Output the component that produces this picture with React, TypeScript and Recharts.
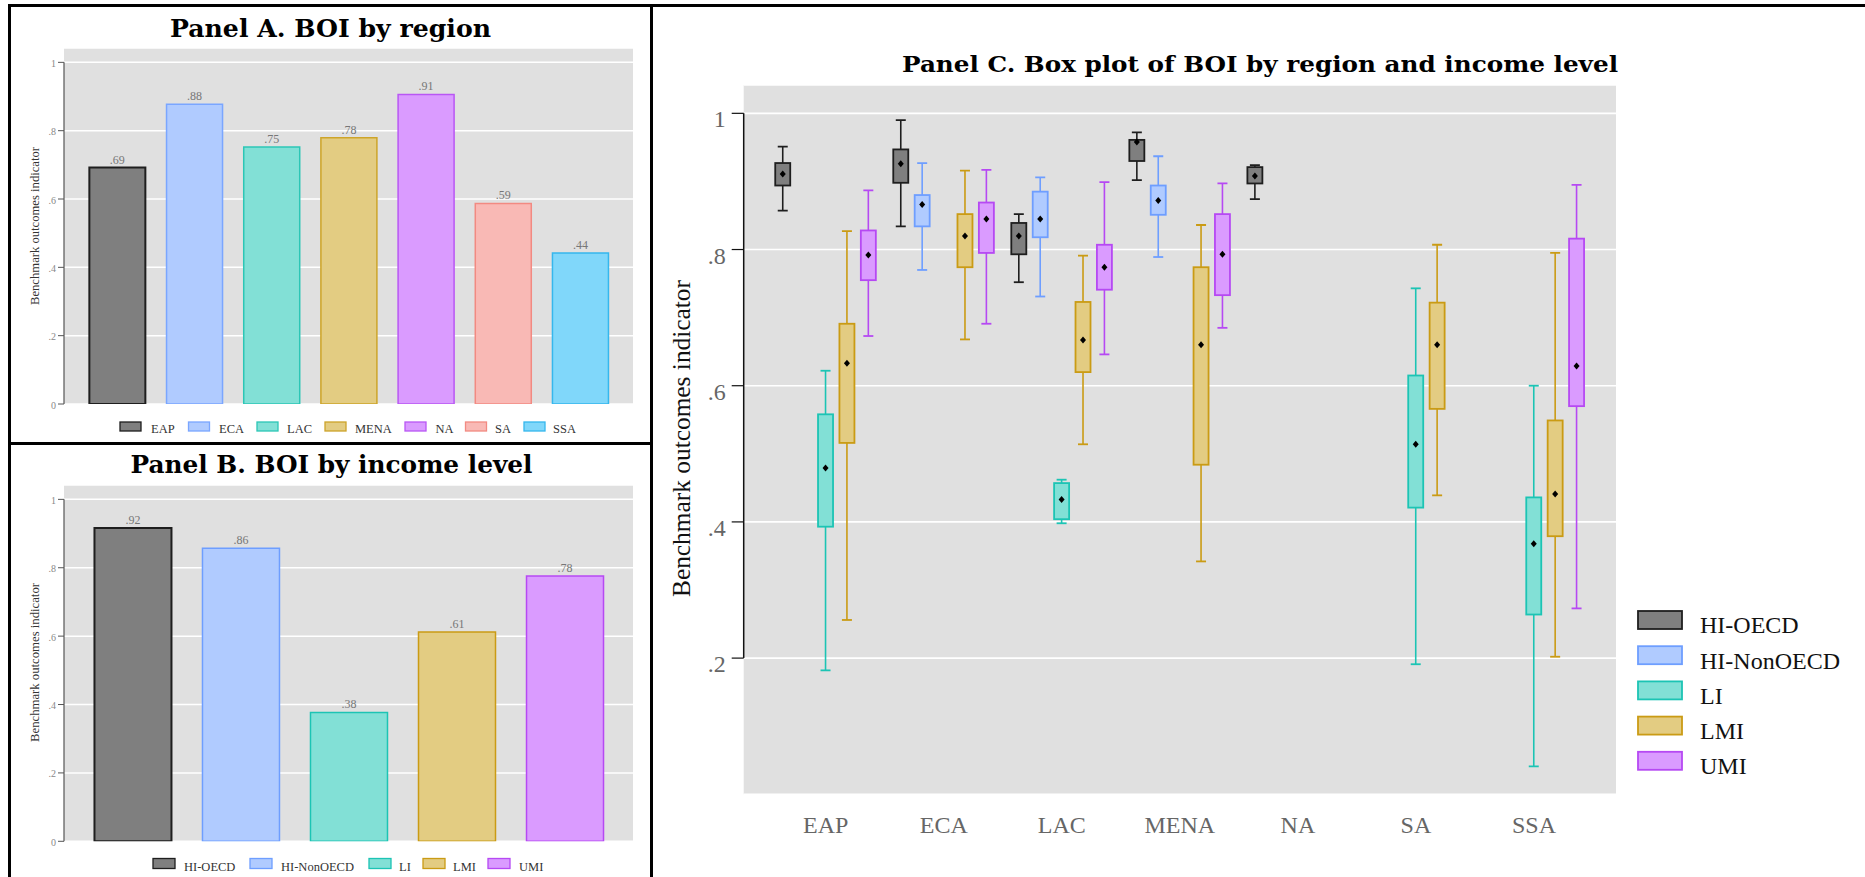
import React from 'react';
import {
  ComposedChart,
  Bar,
  XAxis,
  YAxis,
  CartesianGrid,
  Cell,
  LabelList,
  ReferenceLine,
} from 'recharts';

// ---------------- DATA ----------------
const regions = ['EAP', 'ECA', 'LAC', 'MENA', 'NA', 'SA', 'SSA'];
const regionBOI = [0.692, 0.877, 0.752, 0.779, 0.906, 0.587, 0.442];

const incomeGroups = ['HI-OECD', 'HI-NonOECD', 'LI', 'LMI', 'UMI'];
const incomeBOI = [0.916, 0.857, 0.377, 0.612, 0.776];

const yTicksAB = [0, 0.2, 0.4, 0.6, 0.8, 1];
const yTicksC = [0.2, 0.4, 0.6, 0.8, 1];

// box stats per region: [lower whisker, q1, mean, q3, upper whisker]
const hiOecdBox = [
  [0.857, 0.894, 0.911, 0.927, 0.951],
  [0.834, 0.898, 0.926, 0.947, 0.99],
  [0.752, 0.793, 0.82, 0.839, 0.852],
  [0.902, 0.93, 0.958, 0.961, 0.972],
  [0.874, 0.897, 0.908, 0.921, 0.924],
  null,
  null,
];
const hiNonOecdBox = [
  null,
  [0.77, 0.834, 0.866, 0.88, 0.927],
  [0.731, 0.818, 0.845, 0.885, 0.906],
  [0.789, 0.851, 0.872, 0.894, 0.937],
  null,
  null,
  null,
];
const liBox = [
  [0.182, 0.393, 0.479, 0.558, 0.622],
  null,
  [0.398, 0.404, 0.433, 0.457, 0.462],
  null,
  null,
  [0.191, 0.421, 0.514, 0.615, 0.743],
  [0.041, 0.264, 0.368, 0.436, 0.6],
];
const lmiBox = [
  [0.256, 0.516, 0.633, 0.691, 0.827],
  [0.668, 0.774, 0.82, 0.852, 0.916],
  [0.514, 0.62, 0.667, 0.723, 0.791],
  [0.342, 0.484, 0.66, 0.774, 0.836],
  null,
  [0.439, 0.566, 0.66, 0.722, 0.807],
  [0.202, 0.379, 0.441, 0.549, 0.795],
];
const umiBox = [
  [0.673, 0.755, 0.792, 0.828, 0.887],
  [0.691, 0.795, 0.845, 0.869, 0.917],
  [0.646, 0.741, 0.774, 0.807, 0.899],
  [0.685, 0.733, 0.793, 0.852, 0.897],
  null,
  null,
  [0.273, 0.57, 0.629, 0.816, 0.895],
];

// ---------------- STYLES ----------------
const regionFill = ['#7F7F7F', '#B0CBFF', '#82E0D6', '#E3CC82', '#DA9BFF', '#F9B9B5', '#80D7FA'];
const regionStroke = ['#1E1E1E', '#7AA6FF', '#2CC6B6', '#CDA42A', '#B957F4', '#F28A82', '#35B7ED'];
const incomeFill = ['#7F7F7F', '#B0CBFF', '#82E0D6', '#E3CC82', '#DA9BFF'];
const incomeStroke = ['#1E1E1E', '#6E9EFF', '#1CC4B4', '#CA9B14', '#B649F3'];

const SERIF = "'Liberation Serif', 'DejaVu Serif', serif";
const TITLE_FONT = "'DejaVu Serif', 'Liberation Serif', serif";
const PANEL_BG = '#E0E0E0';

const regionData = regions.map((r, i) => ({ x: i, name: r, value: regionBOI[i] }));
const incomeData = incomeGroups.map((g, i) => ({ x: i, name: g, value: incomeBOI[i] }));

const allBoxes = [hiOecdBox, hiNonOecdBox, liBox, lmiBox, umiBox];
const DODGE = 0.1813;
const boxData: any[] = [];
allBoxes.forEach((arr, g) => {
  arr.forEach((s, r) => {
    if (!s) return;
    boxData.push({
      x: r + (g - 2) * DODGE,
      range: [s[0], s[4]],
      lo: s[0],
      q1: s[1],
      mean: s[2],
      q3: s[3],
      hi: s[4],
      g,
    });
  });
});

const fmtTick = (v: number) => (v === 0 ? '0' : v === 1 ? '1' : '.' + Math.round(v * 10));
const fmtVal = (v: any) => '.' + String(Math.round(Number(v) * 100)).padStart(2, '0');

const makeYTick = (fontSize: number, fill: string, dy: number) => (p: any) => (
  <text x={p.x} y={p.y + dy} textAnchor="end" fontSize={fontSize} fill={fill} fontFamily={SERIF}>
    {fmtTick(p.payload.value)}
  </text>
);

const XTickC = (p: any) => (
  <text x={p.x} y={p.y + 39} textAnchor="middle" fontSize={24} fill="#666" fontFamily={SERIF}>
    {regions[Math.round(p.payload.value)]}
  </text>
);

const BoxShape = (props: any) => {
  const { x, y, width, height, payload } = props;
  if (!payload || height == null || isNaN(height)) return null;
  const top = Math.min(y, y + height);
  const h = Math.abs(height);
  const { lo, q1, mean, q3, hi, g } = payload;
  const py = (v: number) => top + ((hi - v) / (hi - lo)) * h;
  const cx = x + width / 2;
  const st = incomeStroke[g];
  const fl = incomeFill[g];
  const my = py(mean);
  return (
    <g>
      <line x1={cx} x2={cx} y1={py(hi)} y2={py(q3)} stroke={st} strokeWidth={1.6} />
      <line x1={cx} x2={cx} y1={py(q1)} y2={py(lo)} stroke={st} strokeWidth={1.6} />
      <line x1={cx - 5} x2={cx + 5} y1={py(hi)} y2={py(hi)} stroke={st} strokeWidth={1.8} />
      <line x1={cx - 5} x2={cx + 5} y1={py(lo)} y2={py(lo)} stroke={st} strokeWidth={1.8} />
      <rect x={x} y={py(q3)} width={width} height={Math.max(py(q1) - py(q3), 1)} fill={fl} stroke={st} strokeWidth={1.8} />
      <path d={`M${cx},${my - 3.5} L${cx + 3},${my} L${cx},${my + 3.5} L${cx - 3},${my} Z`} fill="#000" />
    </g>
  );
};

// ---------------- LAYOUT (legend positions) ----------------
const legendAX = [120, 188.5, 257, 325, 405, 465.5, 524];
const legendALabelX = [151, 219, 287, 355, 435.5, 495, 553];
const legendBX = [153, 250, 369, 423, 488];
const legendBLabelX = [184, 281, 399, 453, 519];

function PanelBars({
  data,
  fills,
  strokes,
  width,
  height,
  margin,
  domainX,
  barSize,
}: any) {
  return (
    <ComposedChart width={width} height={height} data={data} margin={margin}>
      <CartesianGrid vertical={false} stroke="#FFFFFF" strokeWidth={1.5} fill={PANEL_BG} />
      <XAxis type="number" dataKey="x" domain={domainX} allowDataOverflow hide />
      <YAxis
        type="number"
        domain={[0, 1.042]}
        ticks={yTicksAB}
        allowDataOverflow
        width={64}
        axisLine={false}
        tickLine={{ stroke: '#555', strokeWidth: 1 }}
        tickSize={6}
        tickMargin={2}
        tick={makeYTick(10, '#888', 4.5)}
        interval={0}
      />
      <ReferenceLine
        segment={[
          { x: domainX[0], y: 0 },
          { x: domainX[0], y: 1 },
        ]}
        stroke="#555"
        strokeWidth={1.2}
        ifOverflow="visible"
      />
      <Bar dataKey="value" barSize={barSize} isAnimationActive={false} strokeWidth={1.5}>
        {data.map((d: any, i: number) => (
          <Cell key={d.name} fill={fills[i]} stroke={strokes[i]} strokeWidth={i === 0 ? 2 : 1.5} />
        ))}
        <LabelList
          dataKey="value"
          position="top"
          offset={4}
          formatter={fmtVal}
          fill="#777"
          fontSize={12}
          fontFamily={SERIF}
        />
      </Bar>
    </ComposedChart>
  );
}

export default function App() {
  return (
    <div
      style={{
        position: 'absolute',
        left: 0,
        top: 0,
        width: 1865,
        height: 877,
        background: '#fff',
        overflow: 'hidden',
        fontFamily: SERIF,
      }}
    >
      {/* Panel A */}
      <div style={{ position: 'absolute', left: 0, top: 0 }}>
        <PanelBars
          data={regionData}
          fills={regionFill}
          strokes={regionStroke}
          width={652}
          height={442}
          margin={{ top: 48, right: 19, bottom: 38, left: 0 }}
          domainX={[-0.686, 6.686]}
          barSize={56}
        />
      </div>
      {/* Panel B */}
      <div style={{ position: 'absolute', left: 0, top: 442 }}>
        <PanelBars
          data={incomeData}
          fills={incomeFill}
          strokes={incomeStroke}
          width={652}
          height={435}
          margin={{ top: 43, right: 19, bottom: 35.7, left: 0 }}
          domainX={[-0.634, 4.634]}
          barSize={77}
        />
      </div>
      {/* Panel C */}
      <div style={{ position: 'absolute', left: 652, top: 0 }}>
        <ComposedChart
          width={1213}
          height={877}
          data={boxData}
          margin={{ top: 85, right: 249, bottom: 42.7, left: 31.7 }}
        >
          <CartesianGrid vertical={false} stroke="#FFFFFF" strokeWidth={1.6} fill={PANEL_BG} />
          <XAxis
            type="number"
            dataKey="x"
            domain={[-0.695, 6.695]}
            allowDataOverflow
            ticks={[0, 1, 2, 3, 4, 5, 6]}
            interval={0}
            axisLine={false}
            tickLine={false}
            tickSize={0}
            tickMargin={0}
            height={40}
            tick={XTickC}
          />
          <YAxis
            type="number"
            domain={[0, 1.0416]}
            ticks={yTicksC}
            allowDataOverflow
            width={60}
            axisLine={false}
            tickLine={{ stroke: '#111', strokeWidth: 1.2 }}
            tickSize={12}
            tickMargin={6}
            tick={makeYTick(24, '#666', 14)}
            interval={0}
          />
          <ReferenceLine
            segment={[
              { x: -0.695, y: 0.2 },
              { x: -0.695, y: 1 },
            ]}
            stroke="#111"
            strokeWidth={1.5}
            ifOverflow="visible"
          />
          <Bar dataKey="range" barSize={15} isAnimationActive={false} shape={BoxShape} />
        </ComposedChart>
      </div>

      {/* Overlay: frames, titles, axis titles, legends */}
      <svg
        width={1865}
        height={877}
        style={{ position: 'absolute', left: 0, top: 0, pointerEvents: 'none' }}
      >
        <rect x={8} y={4} width={1857} height={3} fill="#000" />
        <rect x={8} y={4} width={3} height={873} fill="#000" />
        <rect x={650} y={4} width={3} height={873} fill="#000" />
        <rect x={8} y={442} width={645} height={3} fill="#000" />

        <text
          x={330.5}
          y={36.7}
          textAnchor="middle"
          fontFamily={TITLE_FONT}
          fontWeight="bold"
          fontSize={24}
          textLength={321}
          lengthAdjust="spacingAndGlyphs"
          fill="#000"
        >
          Panel A. BOI by region
        </text>
        <text
          x={331.5}
          y={473.3}
          textAnchor="middle"
          fontFamily={TITLE_FONT}
          fontWeight="bold"
          fontSize={24}
          textLength={402}
          lengthAdjust="spacingAndGlyphs"
          fill="#000"
        >
          Panel B. BOI by income level
        </text>
        <text
          x={1260}
          y={71.7}
          textAnchor="middle"
          fontFamily={TITLE_FONT}
          fontWeight="bold"
          fontSize={22.5}
          textLength={716}
          lengthAdjust="spacingAndGlyphs"
          fill="#000"
        >
          Panel C. Box plot of BOI by region and income level
        </text>

        {/* Y-axis titles */}
        <text
          transform="translate(38.5,226) rotate(-90)"
          textAnchor="middle"
          fontFamily={SERIF}
          fontSize={12.5}
          textLength={158}
          lengthAdjust="spacingAndGlyphs"
          fill="#333"
        >
          Benchmark outcomes indicator
        </text>
        <text
          transform="translate(38.5,662.5) rotate(-90)"
          textAnchor="middle"
          fontFamily={SERIF}
          fontSize={12.5}
          textLength={159}
          lengthAdjust="spacingAndGlyphs"
          fill="#333"
        >
          Benchmark outcomes indicator
        </text>
        <text
          transform="translate(689.5,438.5) rotate(-90)"
          textAnchor="middle"
          fontFamily={SERIF}
          fontSize={25}
          textLength={317}
          lengthAdjust="spacingAndGlyphs"
          fill="#111"
        >
          Benchmark outcomes indicator
        </text>

        {/* Legend A */}
        {regions.map((r, i) => (
          <g key={r}>
            <rect x={legendAX[i]} y={422} width={21} height={9} fill={regionFill[i]} stroke={regionStroke[i]} strokeWidth={1.3} />
            <text x={legendALabelX[i]} y={432.5} fontSize={12.5} fontFamily={SERIF} fill="#333">
              {r}
            </text>
          </g>
        ))}
        {/* Legend B */}
        {incomeGroups.map((g, i) => (
          <g key={g}>
            <rect x={legendBX[i]} y={858.5} width={22} height={10} fill={incomeFill[i]} stroke={incomeStroke[i]} strokeWidth={1.3} />
            <text x={legendBLabelX[i]} y={870.5} fontSize={12.5} fontFamily={SERIF} fill="#333">
              {g}
            </text>
          </g>
        ))}
        {/* Legend C */}
        {incomeGroups.map((g, i) => (
          <g key={'c' + g}>
            <rect x={1638} y={611 + i * 35.2} width={44} height={18} fill={incomeFill[i]} stroke={incomeStroke[i]} strokeWidth={1.8} />
            <text x={1700} y={633.3 + i * 35.2} fontSize={24} fontFamily={SERIF} fill="#111">
              {g}
            </text>
          </g>
        ))}
      </svg>
    </div>
  );
}
